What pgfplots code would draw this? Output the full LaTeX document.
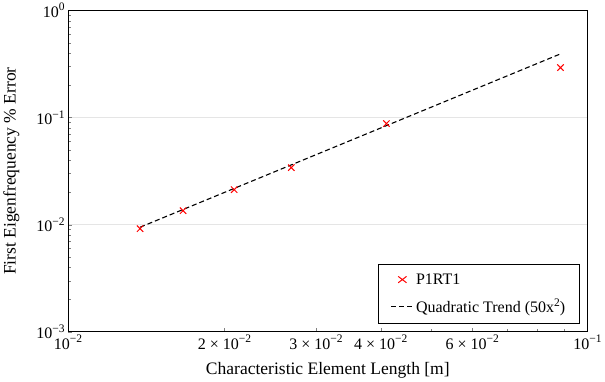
\documentclass[border=0pt]{standalone}
\usepackage{pgfplots}
\pgfplotsset{compat=1.18}
\usepackage{fontspec}
\setmainfont{Liberation Serif}
\newcommand{\supx}[1]{\raisebox{6.5pt}{\fontsize{11.5}{12}\selectfont #1}}
\newcommand{\tl}[1]{\mbox{\fontsize{16}{18}\selectfont #1}}
\begin{document}
\begin{tikzpicture}
\begin{axis}[
  xmode=log, ymode=log,
  scale only axis, width=519pt, height=321pt,
  xmin=0.01, xmax=0.1, ymin=0.001, ymax=1,
  xtick={0.01,0.02,0.03,0.04,0.06,0.1},
  xticklabels={\tl{10\supx{−2}},\tl{2 × 10\supx{−2}},\tl{3 × 10\supx{−2}},\tl{4 × 10\supx{−2}},\tl{6 × 10\supx{−2}},\tl{10\supx{−1}}},
  minor xtick={0.05,0.07,0.08,0.09},
  ytick={0.001,0.01,0.1,1},
  yticklabels={\tl{10\supx{−3}},\tl{10\supx{−2}},\tl{10\supx{−1}},\tl{10\supx{0}}},
  xtick pos=bottom, ytick pos=left,
  tick align=inside,
  major tick length=4pt, minor tick length=3pt,
  ymajorgrids, major grid style={gray!20, line width=0.9pt},
  axis line style={line width=0.9pt},
  xlabel={Characteristic Element Length [m]},
  ylabel={First Eigenfrequency \% Error},
  label style={font=\fontsize{17.5}{20}\selectfont},
  xlabel style={yshift=-6pt},
  ylabel style={yshift=10pt},
  legend style={at={(0.985,0.025)}, anchor=south east, font=\fontsize{16}{18}\selectfont, draw=black, line width=0.9pt, row sep=9pt, inner xsep=12pt, inner ysep=7pt},
  legend cell align=left,
  legend image post style={xscale=1.3},
]
\addplot[only marks, mark=x, red, mark size=4.5pt, line width=1pt] coordinates {
(0.01376,0.00918) (0.01665,0.01352) (0.02088,0.02123) (0.02690,0.0341) (0.04100,0.0879) (0.0887,0.293)
};
\addlegendentry{P1RT1}
\addplot[black, line width=1.1pt, dash pattern=on 5pt off 3pt] coordinates {
(0.01376,0.009467) (0.01665,0.01386) (0.02088,0.0218) (0.02690,0.03618) (0.04100,0.08405) (0.0887,0.3934)
};
\addlegendentry{Quadratic Trend (50x\supx{2})}
\end{axis}
\end{tikzpicture}
\end{document}
